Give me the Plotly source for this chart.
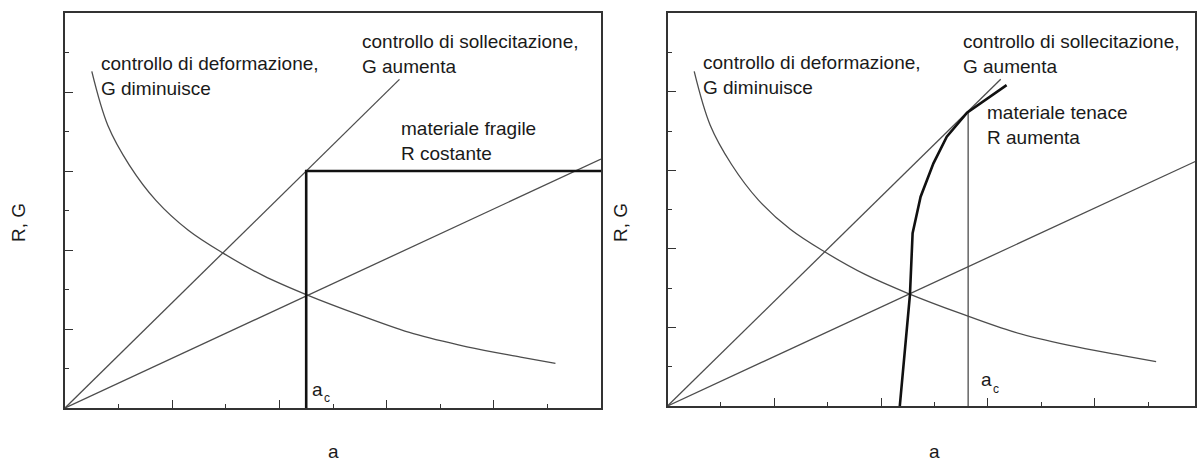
import plotly.graph_objects as go

# --- data (a on the x axis, R/G on the y axis, arbitrary units) ---
# strain control: G decreases with crack length
g_def_a = [0.5, 0.8, 1.2, 1.7, 2.3, 2.95, 3.7, 4.5, 5.5, 6.5, 7.5, 8.5, 9.15]
g_def_val = [8.52, 7.15, 6.15, 5.25, 4.5, 3.92, 3.35, 2.87, 2.35, 1.88, 1.55, 1.29, 1.13]

# load control: G increases linearly (steep and shallow load levels)
g_steep_a = [0, 6.24]
g_steep_val = [0, 8.32]
g_shallow_a = [0, 10]
g_shallow_val = [0, 6.3]

# brittle material: constant R starting at a_c
r_brittle_a = [4.5, 4.5, 10]
r_brittle_val = [0, 6.0, 6.0]

# tough material: rising R curve
r_tough_a = [4.35, 4.54, 4.59, 4.74, 4.98, 5.23, 5.61, 6.35]
r_tough_val = [0, 2.83, 4.40, 5.33, 6.18, 6.86, 7.47, 8.17]

# critical crack length for the tough material
ac_tough_a = [5.63, 5.63]
ac_tough_val = [0, 7.49]

W, H = 1197, 463
FONT = "Liberation Sans, Arial, sans-serif"
THIN = dict(color="#4d4d4d", width=1.3)
THICK = dict(color="#111111", width=2.6)
AXC = "#333333"

fig = go.Figure()

def add_line(x, y, style, xa, ya, shape="linear"):
    fig.add_trace(go.Scatter(x=x, y=y, mode="lines", line=dict(shape=shape, **style),
                             xaxis=xa, yaxis=ya, showlegend=False, hoverinfo="skip"))

# left panel
add_line(g_def_a, g_def_val, THIN, "x", "y", "spline")
add_line(g_steep_a, g_steep_val, THIN, "x", "y")
add_line(g_shallow_a, g_shallow_val, THIN, "x", "y")
add_line(r_brittle_a, r_brittle_val, THICK, "x", "y")

# right panel
add_line(g_def_a, g_def_val, THIN, "x2", "y2", "spline")
add_line(g_steep_a, g_steep_val, THIN, "x2", "y2")
add_line(g_shallow_a, g_shallow_val, THIN, "x2", "y2")
add_line(ac_tough_a, ac_tough_val, THIN, "x2", "y2")
add_line(r_tough_a, r_tough_val, THICK, "x2", "y2")

def axis(domain, rng, anchor):
    return dict(domain=domain, range=rng, anchor=anchor, showgrid=False, zeroline=False,
                showline=True, linecolor=AXC, linewidth=2, mirror=True,
                showticklabels=False, ticks="inside", ticklen=8, tickwidth=1.3,
                tickcolor=AXC, tick0=0, dtick=2,
                minor=dict(ticks="inside", ticklen=4, tickwidth=1.3, tickcolor=AXC, dtick=1, tick0=0))

fig.update_layout(
    xaxis=axis([65 / W, 601 / W], [0, 10], "y"),
    yaxis=axis([1 - 408 / H, 1 - 13 / H], [0, 10], "x"),
    xaxis2=axis([667.5 / W, 1195 / W], [0, (1195 - 667.5) / 53.4], "y2"),
    yaxis2=axis([1 - 406 / H, 1 - 13.3 / H], [0, 10], "x2"),
)

TXT = dict(family=FONT, size=19, color="#1a1a1a")
SUB = dict(family=FONT, size=12, color="#1a1a1a")

def note(text, x, y, xa, ya, font=TXT):
    fig.add_annotation(text=text, x=x, y=y, xref=xa, yref=ya, showarrow=False,
                       xanchor="left", yanchor="middle", align="left", font=font)

note("controllo di deformazione,<br>G diminuisce", 0.64, 8.41, "x", "y")
note("controllo di sollecitazione,<br>G aumenta", 5.51, 8.95, "x", "y")
note("materiale fragile<br>R costante", 6.23, 6.77, "x", "y")
# a_c label: letter plus small lowered "c"
note("a", 4.57, 0.48, "x", "y")
note("c", 4.80, 0.26, "x", "y", SUB)

note("controllo di deformazione,<br>G diminuisce", 0.62, 8.42, "x2", "y2")
note("controllo di sollecitazione,<br>G aumenta", 5.50, 8.96, "x2", "y2")
note("materiale tenace<br>R aumenta", 5.94, 7.16, "x2", "y2")
note("a", 5.84, 0.68, "x2", "y2")
note("c", 6.06, 0.44, "x2", "y2", SUB)

def title(text, px, py, angle=0):
    fig.add_annotation(text=text, x=px / W, y=1 - py / H, xref="paper", yref="paper",
                       showarrow=False, xanchor="center", yanchor="middle",
                       textangle=angle, font=TXT)

title("R, G", 18, 223, -90)
title("R, G", 620, 223, -90)
title("a", 333, 451)
title("a", 934, 451)

fig.update_layout(width=W, height=H, margin=dict(l=0, r=0, t=0, b=0),
                  paper_bgcolor="white", plot_bgcolor="white", showlegend=False)

fig.write_html("out.html")
